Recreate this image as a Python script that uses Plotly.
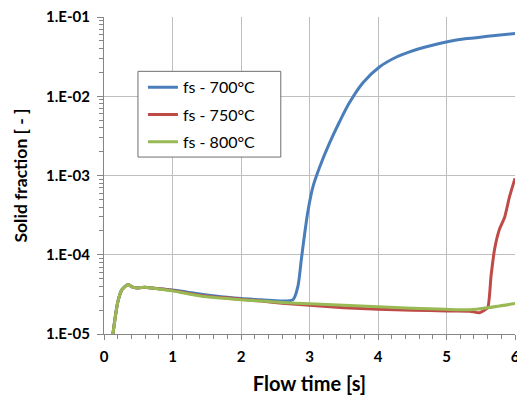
import plotly.graph_objects as go

# ---- data ----
t_700 = [0.13, 0.2, 0.26, 0.35, 0.42, 0.5, 0.6, 0.7, 0.85, 1.0, 1.2, 1.5, 1.8, 2.0, 2.3, 2.6, 2.76,
         2.83, 2.88, 2.93, 2.98, 3.05, 3.15, 3.29, 3.44, 3.58, 3.78, 4.02, 4.27, 4.46, 4.75,
         5.03, 5.27, 5.6, 6.0]
fs_700 = [1.0e-5, 2.5e-5, 3.6e-5, 4.2e-5, 3.9e-5, 3.8e-5, 3.9e-5, 3.8e-5, 3.7e-5, 3.6e-5, 3.4e-5,
          3.1e-5, 2.9e-5, 2.8e-5, 2.7e-5, 2.6e-5, 2.72e-5, 3.97e-5, 8.6e-5, 1.87e-4, 3.68e-4, 7.2e-4,
          1.29e-3, 2.54e-3, 4.8e-3, 8.2e-3, 1.48e-2, 2.34e-2, 3.13e-2, 3.63e-2, 4.3e-2, 4.9e-2,
          5.3e-2, 5.7e-2, 6.2e-2]

t_750 = [0.13, 0.2, 0.26, 0.35, 0.42, 0.5, 0.6, 0.7, 0.85, 1.0, 1.2, 1.5, 1.8, 2.0, 2.3, 2.6, 3.0,
         3.5, 4.0, 4.5, 5.0, 5.34, 5.48, 5.6, 5.65, 5.70, 5.77, 5.85, 5.92, 6.0]
fs_750 = [1e-5, 2.5e-5, 3.6e-5, 4.2e-5, 3.9e-5, 3.8e-5, 3.9e-5, 3.8e-5, 3.7e-5, 3.55e-5, 3.3e-5,
          3.0e-5, 2.85e-5, 2.75e-5, 2.6e-5, 2.45e-5, 2.3e-5, 2.15e-5, 2.05e-5, 2.0e-5, 1.95e-5,
          1.94e-5, 1.85e-5, 2.14e-5, 5.4e-5, 1.15e-4, 2.06e-4, 3.0e-4, 5.4e-4, 9.2e-4]

t_800 = [0.13, 0.2, 0.26, 0.35, 0.42, 0.5, 0.6, 0.7, 0.85, 1.0, 1.2, 1.5, 1.8, 2.0, 2.3, 2.6, 3.0,
         3.5, 4.0, 4.5, 5.0, 5.34, 5.6, 6.0]
fs_800 = [1e-5, 2.5e-5, 3.6e-5, 4.2e-5, 3.9e-5, 3.8e-5, 3.9e-5, 3.8e-5, 3.65e-5, 3.5e-5, 3.25e-5,
          2.95e-5, 2.8e-5, 2.7e-5, 2.6e-5, 2.5e-5, 2.4e-5, 2.3e-5, 2.2e-5, 2.12e-5, 2.05e-5,
          2.02e-5, 2.14e-5, 2.42e-5]

series_names = ["fs - 700°C", "fs - 750°C", "fs - 800°C"]
series_colors = ["#4A7EBB", "#BE4B48", "#98B954"]
series_smooth = [0.8, 0.5, 0.5]

y_tickvals = [1e-5, 1e-4, 1e-3, 1e-2, 1e-1]
y_ticktext = ["1.E-05", "1.E-04", "1.E-03", "1.E-02", "1.E-01"]
x_tickvals = [0, 1, 2, 3, 4, 5, 6]

FONT = "Lato, 'Open Sans', sans-serif"

fig = go.Figure()
for i, (t, fs, name, col, sm) in enumerate(zip([t_700, t_750, t_800], [fs_700, fs_750, fs_800],
                                               series_names, series_colors, series_smooth)):
    fig.add_trace(go.Scatter(x=t, y=fs, name=name, mode="lines", legendgroup=f"g{i}",
                             line=dict(color=col, width=3, shape="spline", smoothing=sm)))

# legend frame
fig.add_shape(type="rect", xref="paper", yref="paper",
              x0=(138 - 104) / 411.5, x1=(281 - 104) / 411.5,
              y0=(334.5 - 157) / 318, y1=(334.5 - 71) / 318,
              line=dict(color="#6f6f6f", width=1), fillcolor="white", layer="above")

fig.update_layout(
    width=517, height=396,
    margin=dict(l=104, r=1.5, t=16.5, b=61.5, autoexpand=False),
    paper_bgcolor="white", plot_bgcolor="white",
    font=dict(family=FONT, color="#000000"),
    showlegend=True,
    legend=dict(x=(143 - 104) / 411.5, y=(334.5 - 70) / 318, xanchor="left", yanchor="top",
                bgcolor="rgba(0,0,0,0)", borderwidth=0,
                font=dict(size=16, family=FONT, color="#000"),
                tracegroupgap=3.5),
    xaxis=dict(range=[0, 6], tickvals=x_tickvals, showgrid=True, gridcolor="#BFBFBF", gridwidth=1,
               showline=True, linecolor="#868686", linewidth=1, ticks="outside", ticklen=5,
               tickcolor="#868686", tickfont=dict(size=15, family=FONT, color="#000", weight="bold"),
               minor=dict(dtick=0.2, ticks="outside", ticklen=4, tickcolor="#868686", showgrid=False),
               title=dict(text="<b>Flow time [s]</b>", font=dict(size=20, family=FONT), standoff=12),
               zeroline=False, automargin=False, ticklabeloverflow="allow", ticklabelstandoff=4),
    yaxis=dict(type="log", range=[-5, -1], tickvals=y_tickvals, ticktext=y_ticktext,
               showgrid=True, gridcolor="#BFBFBF", gridwidth=1,
               showline=True, linecolor="#868686", linewidth=1, ticks="outside", ticklen=6,
               tickcolor="#868686", tickfont=dict(size=15, family=FONT, color="#000", weight="bold"),
               minor=dict(dtick="D1", ticks="outside", ticklen=4, tickcolor="#868686", showgrid=False),
               title=dict(text="<b>Solid fraction [ - ]</b>", font=dict(size=17.5, family=FONT), standoff=13),
               zeroline=False, automargin=False, ticklabeloverflow="allow", ticklabelstandoff=4),
)

fig.write_html("out.html", config={"displayModeBar": False},
               post_script="document.body.style.margin='0px';")
